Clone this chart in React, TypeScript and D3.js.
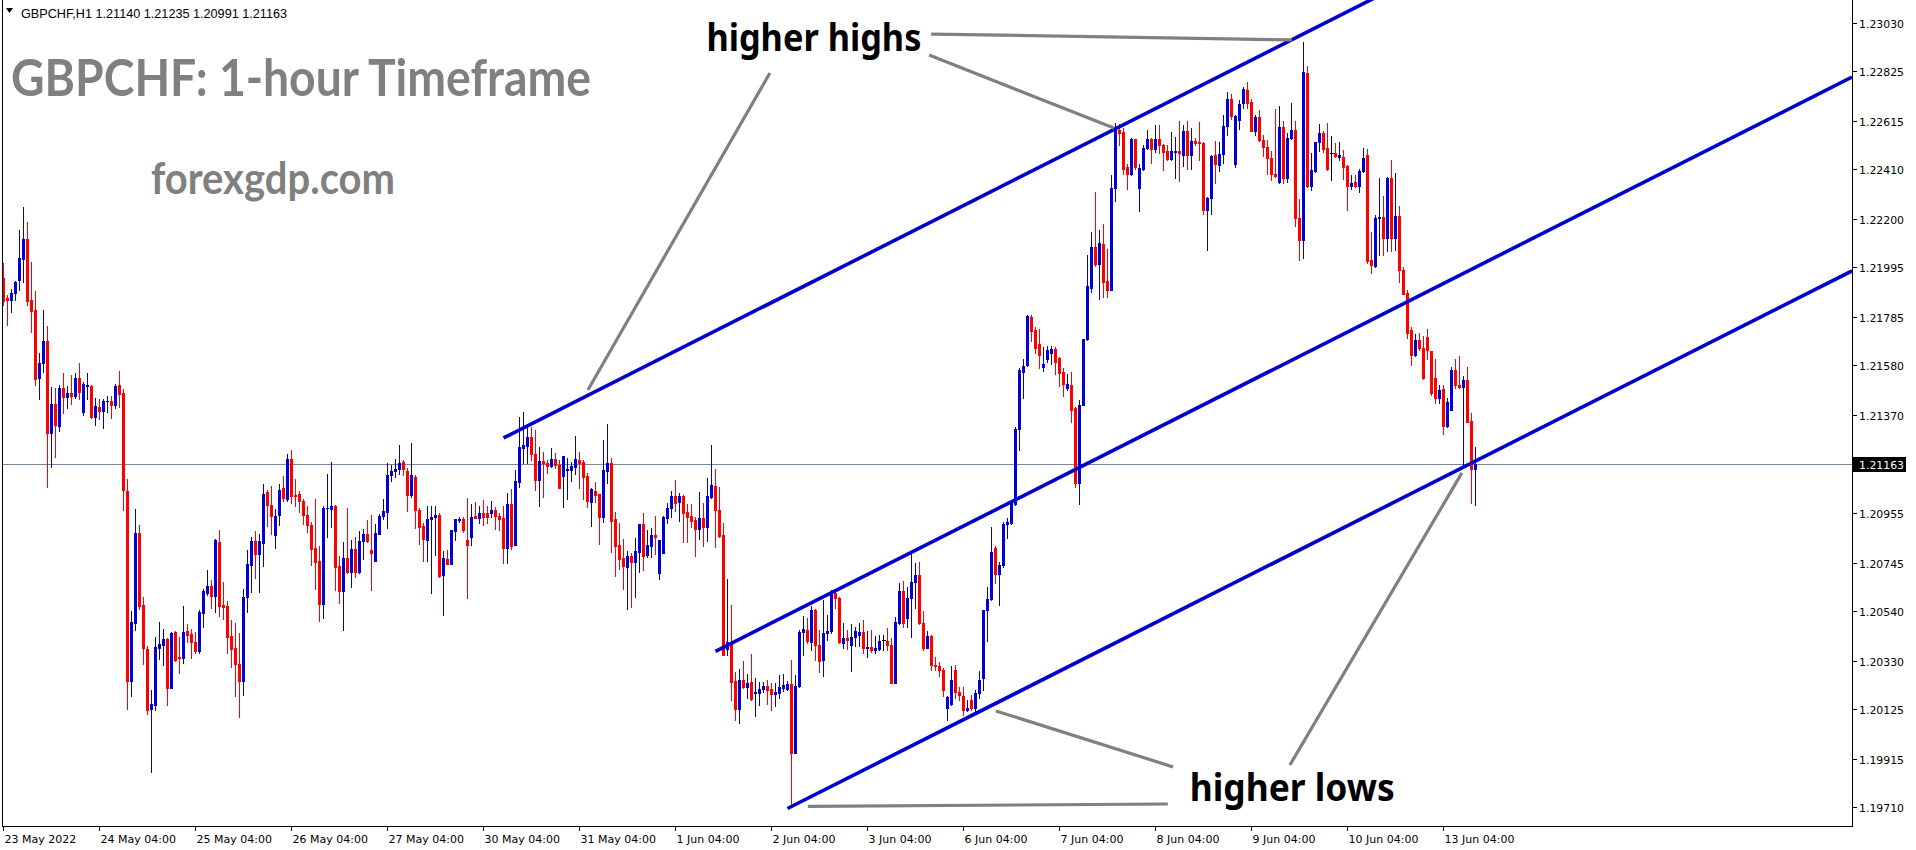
import React from "react";
import * as d3 from "d3";

const W = 1916;
const H = 850;

// ---------- data ----------
const symbolHeader = "GBPCHF,H1  1.21140 1.21235 1.20991 1.21163";
const titleText = "GBPCHF: 1-hour Timeframe";
const siteText = "forexgdp.com";

const opens = [
1.21949,1.21863,1.21857,1.21888,1.21943,1.22028,1.22115,1.21857,1.21815,1.21528,
1.21589,1.21683,1.21293,1.21415,1.21324,1.21484,1.21447,1.21462,1.21451,1.21526,
1.21382,1.21492,1.21492,1.21362,1.21403,1.21387,1.21428,1.21431,1.21414,1.21495,
1.21462,1.21047,1.20244,1.20490,1.20870,1.20568,1.20379,1.20126,1.20145,1.20385,
1.20396,1.20422,1.20216,1.20451,1.20346,1.20341,1.20455,1.20443,1.20410,1.20371,
1.20532,1.20618,1.20645,1.20604,1.20831,1.20565,1.20560,1.20433,1.20383,1.20317,
1.20244,1.20601,1.20736,1.20839,1.20783,1.20830,1.21046,1.20991,1.20863,1.20947,
1.21060,1.21014,1.21185,1.21033,1.21035,1.21005,1.20949,1.20906,1.20806,1.20751,
1.20571,1.20975,1.20974,1.20986,1.20731,1.20626,1.20767,1.20706,1.20803,1.20706,
1.20836,1.20867,1.20800,1.20754,1.20867,1.20944,1.20960,1.21116,1.21132,1.21140,
1.21173,1.21134,1.21032,1.21109,1.20968,1.20902,1.20841,1.20929,1.20937,1.20947,
1.20693,1.20761,1.20741,1.20881,1.20926,1.20930,1.20841,1.20855,1.20944,1.20936,
1.20954,1.20954,1.20954,1.20968,1.20944,1.20933,1.20809,1.20993,1.20820,1.21088,
1.21232,1.21240,1.21278,1.21205,1.21095,1.21175,1.21165,1.21156,1.21184,1.21158,
1.21112,1.21136,1.21137,1.21151,1.21180,1.21171,1.21112,1.21003,1.21048,1.21036,
1.20940,1.21134,1.21168,1.20929,1.20820,1.20766,1.20728,1.20773,1.20747,1.20792,
1.20909,1.20778,1.20817,1.20862,1.20700,1.20788,1.20936,1.20975,1.21027,1.21003,
1.21027,1.20958,1.20943,1.20926,1.20886,1.20936,1.20898,1.21025,1.21070,1.20968,
1.20862,1.20379,1.20404,1.20245,1.20126,1.20249,1.20221,1.20241,1.20193,1.20193,
1.20211,1.20224,1.20211,1.20189,1.20193,1.20214,1.20210,1.20233,1.19939,1.20224,
1.20451,1.20461,1.20408,1.20543,1.20395,1.20334,1.20447,1.20454,1.20616,1.20595,
1.20405,1.20426,1.20398,1.20430,1.20440,1.20451,1.20384,1.20388,1.20374,1.20379,
1.20416,1.20412,1.20398,1.20238,1.20489,1.20627,1.20510,1.20595,1.20663,1.20694,
1.20492,1.20384,1.20433,1.20313,1.20306,1.20292,1.20130,1.20148,1.20289,1.20200,
1.20182,1.20123,1.20165,1.20130,1.20193,1.20257,1.20543,1.20591,1.20807,1.20698,
1.20736,1.20909,1.20915,1.20994,1.21311,1.21553,1.21583,1.21786,1.21731,1.21669,
1.21574,1.21605,1.21634,1.21648,1.21610,1.21553,1.21484,1.21496,1.21398,1.21082,
1.21412,1.21691,1.21907,1.22083,1.22011,1.22094,1.21937,1.21901,1.22331,1.22577,
1.22567,1.22420,1.22391,1.22537,1.22330,1.22413,1.22499,1.22539,1.22496,1.22539,
1.22513,1.22487,1.22453,1.22484,1.22487,1.22470,1.22573,1.22470,1.22530,1.22527,
1.22520,1.22237,1.22288,1.22470,1.22427,1.22473,1.22591,1.22706,1.22434,1.22620,
1.22692,1.22744,1.22694,1.22573,1.22630,1.22534,1.22506,1.22458,1.22391,1.22358,
1.22587,1.22374,1.22544,1.22574,1.22202,1.22112,1.22816,1.22338,1.22401,1.22524,
1.22563,1.22499,1.22477,1.22477,1.22463,1.22463,1.22423,1.22341,1.22356,1.22337,
1.22401,1.22470,1.22027,1.22002,1.22202,1.22208,1.22120,1.22374,1.22120,1.22210,
1.21984,1.21887,1.21729,1.21623,1.21686,1.21655,1.21701,1.21640,1.21526,1.21440,
1.21480,1.21323,1.21390,1.21562,1.21497,1.21487,1.21519,1.21344,1.21140
];

const highs = [
1.22013,1.21876,1.21902,1.21938,1.22153,1.22252,1.22186,1.22017,1.21894,1.21631,
1.21815,1.21746,1.21487,1.21484,1.21497,1.21548,1.21492,1.21539,1.21547,1.21589,
1.21511,1.21547,1.21497,1.21442,1.21437,1.21437,1.21450,1.21451,1.21503,1.21556,
1.21480,1.21099,1.20540,1.20972,1.20903,1.20599,1.20391,1.20206,1.20430,1.20493,
1.20466,1.20427,1.20451,1.20454,1.20430,1.20560,1.20485,1.20466,1.20451,1.20545,
1.20634,1.20714,1.20671,1.20847,1.20884,1.20662,1.20584,1.20501,1.20490,1.20446,
1.20634,1.20798,1.20853,1.20878,1.20866,1.21077,1.21054,1.21069,1.20972,1.21077,
1.21112,1.21204,1.21221,1.21099,1.21050,1.21014,1.20986,1.20919,1.21014,1.20816,
1.20983,1.21119,1.21171,1.20991,1.20772,1.20833,1.20975,1.20842,1.20855,1.20878,
1.20886,1.20925,1.20949,1.20908,1.20952,1.21014,1.21166,1.21159,1.21182,1.21241,
1.21180,1.21144,1.21253,1.21116,1.20975,1.20912,1.20985,1.20985,1.20985,1.20954,
1.20795,1.20799,1.20884,1.20930,1.20937,1.20940,1.21020,1.20993,1.21002,1.20985,
1.21010,1.20985,1.21006,1.20982,1.20957,1.20985,1.21041,1.21058,1.21137,1.21360,
1.21384,1.21321,1.21321,1.21307,1.21236,1.21215,1.21180,1.21229,1.21208,1.21180,
1.21197,1.21189,1.21171,1.21281,1.21215,1.21180,1.21123,1.21060,1.21085,1.21036,
1.21264,1.21332,1.21187,1.20961,1.20912,1.20845,1.20796,1.20785,1.20848,1.20909,
1.20954,1.20884,1.20893,1.20943,1.20841,1.20943,1.20996,1.21048,1.21095,1.21041,
1.21030,1.20992,1.20992,1.20940,1.21044,1.20996,1.21102,1.21243,1.21142,1.21067,
1.20912,1.20676,1.20566,1.20281,1.20296,1.20331,1.20274,1.20359,1.20256,1.20242,
1.20239,1.20247,1.20238,1.20238,1.20269,1.20274,1.20243,1.20334,1.20271,1.20461,
1.20518,1.20510,1.20560,1.20550,1.20461,1.20588,1.20525,1.20630,1.20633,1.20602,
1.20489,1.20461,1.20487,1.20475,1.20489,1.20503,1.20454,1.20461,1.20433,1.20440,
1.20440,1.20468,1.20426,1.20517,1.20658,1.20666,1.20644,1.20785,1.20743,1.20750,
1.20539,1.20454,1.20440,1.20348,1.20327,1.20299,1.20179,1.20306,1.20313,1.20219,
1.20219,1.20165,1.20186,1.20207,1.20285,1.20546,1.20644,1.20898,1.20814,1.20747,
1.20919,1.20933,1.21000,1.21320,1.21570,1.21608,1.21795,1.21795,1.21743,1.21735,
1.21657,1.21662,1.21662,1.21657,1.21617,1.21571,1.21545,1.21550,1.21406,1.21432,
1.21691,1.22045,1.22146,1.22313,1.22154,1.22177,1.22072,1.22384,1.22606,1.22601,
1.22584,1.22434,1.22541,1.22539,1.22434,1.22513,1.22574,1.22541,1.22599,1.22596,
1.22517,1.22513,1.22566,1.22547,1.22613,1.22599,1.22616,1.22584,1.22544,1.22610,
1.22527,1.22291,1.22470,1.22530,1.22527,1.22641,1.22737,1.22730,1.22641,1.22702,
1.22759,1.22777,1.22706,1.22639,1.22659,1.22556,1.22534,1.22487,1.22663,1.22677,
1.22613,1.22563,1.22691,1.22613,1.22284,1.22949,1.22845,1.22477,1.22527,1.22601,
1.22570,1.22606,1.22549,1.22520,1.22527,1.22491,1.22427,1.22387,1.22387,1.22410,
1.22498,1.22496,1.22144,1.22215,1.22373,1.22298,1.22377,1.22448,1.22394,1.22255,
1.21998,1.21901,1.21743,1.21712,1.21719,1.21705,1.21733,1.21640,1.21605,1.21497,
1.21497,1.21440,1.21572,1.21605,1.21619,1.21537,1.21572,1.21380,1.21235
];

const lows = [
1.21837,1.21750,1.21805,1.21857,1.21899,1.21931,1.21837,1.21722,1.21497,1.21437,
1.21553,1.21066,1.21151,1.21193,1.21303,1.21378,1.21401,1.21415,1.21442,1.21437,
1.21371,1.21437,1.21359,1.21328,1.21353,1.21317,1.21382,1.21359,1.21398,1.21406,
1.20967,1.20126,1.20181,1.20459,1.20548,1.20318,1.20106,1.19859,1.20122,1.20336,
1.20311,1.20142,1.20216,1.20330,1.20278,1.20321,1.20411,1.20341,1.20365,1.20365,
1.20474,1.20607,1.20552,1.20537,1.20521,1.20506,1.20361,1.20302,1.20181,1.20092,
1.20186,1.20537,1.20623,1.20681,1.20621,1.20733,1.20900,1.20866,1.20808,1.20905,
1.21007,1.21007,1.20999,1.20986,1.20961,1.20908,1.20873,1.20736,1.20634,1.20499,
1.20510,1.20853,1.20897,1.20631,1.20574,1.20462,1.20701,1.20643,1.20684,1.20703,
1.20762,1.20834,1.20631,1.20751,1.20866,1.20928,1.20892,1.21090,1.21108,1.21121,
1.21116,1.20965,1.21025,1.20891,1.20824,1.20752,1.20752,1.20618,1.20778,1.20686,
1.20524,1.20740,1.20740,1.20841,1.20919,1.20877,1.20597,1.20820,1.20933,1.20912,
1.20905,1.20912,1.20937,1.20886,1.20884,1.20745,1.20745,1.20803,1.20820,1.21067,
1.21166,1.21166,1.21180,1.21053,1.20986,1.21025,1.21126,1.21151,1.21144,1.21063,
1.20982,1.21015,1.21092,1.21119,1.21063,1.21013,1.20982,1.20902,1.21003,1.20824,
1.20919,1.21084,1.20792,1.20690,1.20719,1.20633,1.20551,1.20559,1.20602,1.20704,
1.20714,1.20768,1.20771,1.20782,1.20678,1.20785,1.20915,1.20940,1.20965,1.20923,
1.20834,1.20834,1.20898,1.20775,1.20844,1.20817,1.20838,1.21020,1.20813,1.20855,
1.20355,1.20355,1.20164,1.20080,1.20066,1.20214,1.20172,1.20164,1.20098,1.20143,
1.20197,1.20148,1.20123,1.20140,1.20172,1.20204,1.20207,1.19721,1.19939,1.20221,
1.20355,1.20405,1.20377,1.20334,1.20281,1.20264,1.20419,1.20447,1.20553,1.20405,
1.20384,1.20379,1.20285,1.20393,1.20393,1.20362,1.20348,1.20369,1.20362,1.20374,
1.20374,1.20377,1.20238,1.20238,1.20486,1.20475,1.20475,1.20430,1.20553,1.20486,
1.20377,1.20384,1.20289,1.20289,1.20264,1.20179,1.20080,1.20144,1.20172,1.20165,
1.20102,1.20116,1.20123,1.20116,1.20172,1.20207,1.20412,1.20588,1.20659,1.20564,
1.20729,1.20849,1.20909,1.20990,1.21220,1.21444,1.21579,1.21683,1.21634,1.21571,
1.21558,1.21596,1.21584,1.21545,1.21493,1.21450,1.21476,1.21341,1.21065,1.20992,
1.21412,1.21688,1.21890,1.22002,1.21859,1.21869,1.21869,1.21898,1.22277,1.22513,
1.22391,1.22327,1.22384,1.22413,1.22234,1.22406,1.22496,1.22438,1.22484,1.22477,
1.22408,1.22448,1.22448,1.22373,1.22360,1.22424,1.22410,1.22410,1.22513,1.22448,
1.22220,1.22070,1.22220,1.22353,1.22401,1.22438,1.22556,1.22624,1.22420,1.22581,
1.22670,1.22667,1.22570,1.22553,1.22530,1.22467,1.22391,1.22363,1.22377,1.22353,
1.22353,1.22356,1.22539,1.22170,1.22024,1.22034,1.22334,1.22320,1.22398,1.22487,
1.22484,1.22406,1.22363,1.22463,1.22448,1.22370,1.22237,1.22327,1.22334,1.22313,
1.22398,1.22015,1.21972,1.21998,1.22048,1.22048,1.22062,1.22062,1.22070,1.21934,
1.21884,1.21695,1.21580,1.21619,1.21643,1.21523,1.21605,1.21455,1.21419,1.21419,
1.21290,1.21319,1.21390,1.21483,1.21483,1.21154,1.21340,1.20997,1.20991
];

const closes = [
1.21852,1.21857,1.21888,1.21931,1.22034,1.22115,1.21854,1.21811,1.21523,1.21589,
1.21683,1.21293,1.21415,1.21328,1.21484,1.21447,1.21462,1.21451,1.21526,1.21469,
1.21501,1.21497,1.21362,1.21407,1.21387,1.21431,1.21431,1.21414,1.21492,1.21459,
1.21053,1.20244,1.20493,1.20870,1.20560,1.20385,1.20122,1.20148,1.20388,1.20399,
1.20421,1.20216,1.20447,1.20333,1.20341,1.20451,1.20438,1.20410,1.20371,1.20535,
1.20626,1.20645,1.20604,1.20842,1.20562,1.20557,1.20430,1.20380,1.20317,1.20244,
1.20601,1.20739,1.20836,1.20783,1.20836,1.21035,1.20988,1.20944,1.20944,1.21052,
1.21018,1.21182,1.21029,1.21029,1.21005,1.20949,1.20906,1.20803,1.20748,1.20571,
1.20978,1.20978,1.20986,1.20728,1.20626,1.20767,1.20706,1.20803,1.20704,1.20836,
1.20867,1.20837,1.20787,1.20870,1.20944,1.20963,1.21116,1.21135,1.21140,1.21168,
1.21140,1.21032,1.21116,1.20968,1.20898,1.20845,1.20930,1.20940,1.20947,1.20689,
1.20764,1.20741,1.20884,1.20930,1.20930,1.20884,1.20820,1.20940,1.20936,1.20954,
1.20940,1.20940,1.20968,1.20944,1.20929,1.20809,1.20993,1.20817,1.21091,1.21236,
1.21243,1.21278,1.21205,1.21095,1.21175,1.21165,1.21156,1.21184,1.21158,1.21063,
1.21197,1.21143,1.21154,1.21184,1.21168,1.21109,1.21008,1.21056,1.21032,1.20940,
1.21137,1.21165,1.20923,1.20817,1.20759,1.20733,1.20773,1.20747,1.20795,1.20909,
1.20775,1.20820,1.20862,1.20852,1.20841,1.20940,1.20978,1.21027,1.20999,1.21027,
1.20957,1.20940,1.20923,1.20886,1.20936,1.20898,1.21027,1.21074,1.20968,1.20860,
1.20355,1.20411,1.20242,1.20126,1.20249,1.20221,1.20235,1.20167,1.20198,1.20211,
1.20225,1.20207,1.20190,1.20196,1.20219,1.20228,1.20233,1.19939,1.20224,1.20451,
1.20464,1.20412,1.20543,1.20395,1.20331,1.20447,1.20457,1.20616,1.20595,1.20408,
1.20426,1.20419,1.20430,1.20454,1.20451,1.20384,1.20388,1.20374,1.20384,1.20412,
1.20416,1.20398,1.20238,1.20496,1.20627,1.20492,1.20595,1.20663,1.20694,1.20492,
1.20384,1.20437,1.20313,1.20306,1.20292,1.20207,1.20175,1.20250,1.20200,1.20186,
1.20123,1.20130,1.20130,1.20193,1.20250,1.20543,1.20591,1.20792,1.20698,1.20736,
1.20909,1.20919,1.20997,1.21312,1.21562,1.21579,1.21790,1.21726,1.21653,1.21622,
1.21584,1.21645,1.21648,1.21596,1.21548,1.21501,1.21501,1.21393,1.21082,1.21412,
1.21691,1.21915,1.22083,1.22007,1.22097,1.21934,1.21901,1.22331,1.22577,1.22563,
1.22410,1.22391,1.22537,1.22420,1.22416,1.22499,1.22539,1.22496,1.22539,1.22513,
1.22484,1.22453,1.22487,1.22488,1.22477,1.22573,1.22470,1.22530,1.22520,1.22520,
1.22237,1.22288,1.22467,1.22430,1.22473,1.22591,1.22706,1.22634,1.22637,1.22684,
1.22749,1.22692,1.22573,1.22630,1.22534,1.22506,1.22458,1.22391,1.22380,1.22587,
1.22374,1.22544,1.22574,1.22202,1.22112,1.22820,1.22338,1.22406,1.22524,1.22563,
1.22496,1.22413,1.22477,1.22467,1.22470,1.22420,1.22341,1.22353,1.22337,1.22401,
1.22458,1.22022,1.22005,1.22205,1.22208,1.22120,1.22374,1.22120,1.22213,1.21984,
1.21884,1.21719,1.21623,1.21686,1.21652,1.21526,1.21643,1.21462,1.21440,1.21476,
1.21323,1.21426,1.21562,1.21495,1.21487,1.21519,1.21340,1.21143,1.21163
];

const dateLabels = [
  "23 May 2022", "24 May 04:00", "25 May 04:00", "26 May 04:00", "27 May 04:00",
  "30 May 04:00", "31 May 04:00", "1 Jun 04:00", "2 Jun 04:00", "3 Jun 04:00",
  "6 Jun 04:00", "7 Jun 04:00", "8 Jun 04:00", "9 Jun 04:00", "10 Jun 04:00",
  "13 Jun 04:00",
];
const barsPerDay = 24;

const priceTicks = [
  1.2303, 1.22825, 1.22615, 1.2241, 1.222, 1.21995, 1.21785, 1.2158, 1.2137,
  1.20955, 1.20745, 1.2054, 1.2033, 1.20125, 1.19915, 1.1971,
];
const currentPrice = 1.21163;

// channel lines: two anchors each, as [bar, price]
const upperLine = [[125, 1.21273], [320, 1.2294]];
const middleLine = [[178, 1.2037], [368, 1.21995]];
const lowerLine = [[196, 1.19705], [368, 1.21175]];

// annotation pointers [bar, price] -> [bar, price]
const pointerLines = [
  [[231.9, 1.22982], [322.1, 1.22957]],
  [[231.4, 1.22893], [277.6, 1.22584]],
  [[191.6, 1.22817], [146.1, 1.21476]],
  [[201.1, 1.19714], [291.1, 1.19724]],
  [[248.1, 1.20118], [292.4, 1.19881]],
  [[321.6, 1.19889], [364.6, 1.21125]],
];

const labelHighs = { text: "higher highs", bar: 202.6, price: 1.2291 };
const labelLows = { text: "higher lows", bar: 322.2, price: 1.19735 };

// ---------- layout ----------
const plotLeft = 2;
const plotRight = 1852;
const plotTop = 0;
const plotBottom = 826;

const BULL = "#0000D6";
const BEAR = "#FF0000";
const CHANNEL = "#0000CD";
const POINTER = "#808080";

export default function App() {
  const n = closes.length;
  const x = d3.scaleLinear().domain([0, n - 1]).range([3.5, 3.5 + 4 * (n - 1)]);
  const y = d3.scaleLinear().domain([1.19631, 1.23126]).range([plotBottom, plotTop]);

  const extendRay = (pts: number[][]) => {
    const [b0, p0] = pts[0];
    const [b1, p1] = pts[1];
    const slope = (p1 - p0) / (b1 - b0);
    const bEnd = x.invert(plotRight);
    return [
      [x(b0), y(p0)],
      [x(bEnd), y(p0 + slope * (bEnd - b0))],
    ];
  };

  const lineGen = d3.line();

  const candles = d3.range(n).map((i) => {
    const o = opens[i];
    const c = closes[i];
    const h = highs[i];
    const l = lows[i];
    const col = o === c ? "#000000" : c > o ? BULL : BEAR;
    const cx = x(i);
    const yTop = Math.round(y(Math.max(o, c)));
    const yBot = Math.round(y(Math.min(o, c)));
    return (
      <g key={i}>
        <line x1={cx} x2={cx} y1={Math.round(y(h))} y2={Math.round(y(l)) + 1} stroke={col} strokeWidth={1} />
        {o === c ? (
          <line x1={cx - 2} x2={cx + 2} y1={yTop + 0.5} y2={yTop + 0.5} stroke={col} strokeWidth={1} />
        ) : (
          <rect x={cx - 1.5} y={yTop} width={3} height={Math.max(1, yBot - yTop + 1)} fill={col} />
        )}
      </g>
    );
  });

  const axisFont = "'DejaVu Sans', Verdana, sans-serif";
  const cpY = Math.round(y(currentPrice));

  return (
    <svg
      width={W}
      height={H}
      viewBox={`0 0 ${W} ${H}`}
      style={{ position: "absolute", left: 0, top: 0, background: "#ffffff" }}
    >
      <defs>
        <clipPath id="plotClip">
          <rect x={plotLeft} y={plotTop} width={plotRight - plotLeft} height={plotBottom - plotTop} />
        </clipPath>
      </defs>
      <rect x={0} y={0} width={W} height={H} fill="#ffffff" />

      {/* header */}
      <path d="M6,8 L13,8 L9.5,13 Z" fill="#000" />
      <text x={21} y={18} fontFamily="'Liberation Sans', Arial, sans-serif" fontSize={12} fill="#000" textLength={266} lengthAdjust="spacingAndGlyphs">
        {symbolHeader}
      </text>

      {/* watermark texts */}
      <text x={11} y={96} fontFamily="Lato, 'Open Sans', sans-serif" fontWeight={700} fontSize={52} fill="#808080" textLength={580} lengthAdjust="spacingAndGlyphs">
        {titleText}
      </text>
      <text x={151} y={194} fontFamily="Lato, 'Open Sans', sans-serif" fontWeight={700} fontSize={44} fill="#808080" textLength={244} lengthAdjust="spacingAndGlyphs">
        {siteText}
      </text>

      <g clipPath="url(#plotClip)">
        {/* current price line */}
        <line x1={plotLeft} x2={plotRight} y1={cpY + 0.5} y2={cpY + 0.5} stroke="#778899" strokeWidth={1} />

        <g shapeRendering="crispEdges">{candles}</g>

        {[upperLine, middleLine, lowerLine].map((ln, k) => (
          <path key={k} d={lineGen(extendRay(ln) as [number, number][]) || ""} stroke={CHANNEL} strokeWidth={3.6} fill="none" />
        ))}

        {pointerLines.map((pl, k) => (
          <path
            key={k}
            d={lineGen(pl.map(([b, p]) => [x(b), y(p)]) as [number, number][]) || ""}
            stroke={POINTER}
            strokeWidth={3.2}
            fill="none"
          />
        ))}
      </g>

      {/* annotation labels */}
      <text x={x(labelHighs.bar)} y={y(labelHighs.price)} textAnchor="middle" fontFamily="'Noto Sans', 'Open Sans', sans-serif" fontWeight={700} fontSize={38} fill="#000" textLength={215} lengthAdjust="spacingAndGlyphs">
        {labelHighs.text}
      </text>
      <text x={x(labelLows.bar)} y={y(labelLows.price)} textAnchor="middle" fontFamily="'Noto Sans', 'Open Sans', sans-serif" fontWeight={700} fontSize={38} fill="#000" textLength={205} lengthAdjust="spacingAndGlyphs">
        {labelLows.text}
      </text>

      {/* frame */}
      <g shapeRendering="crispEdges" stroke="#000" strokeWidth={1}>
        <line x1={plotLeft + 0.5} x2={plotLeft + 0.5} y1={plotTop} y2={plotBottom + 0.5} />
        <line x1={plotRight + 0.5} x2={plotRight + 0.5} y1={plotTop} y2={plotBottom + 0.5} />
        <line x1={plotLeft} x2={plotRight + 1} y1={plotBottom + 0.5} y2={plotBottom + 0.5} />
      </g>

      {/* price axis */}
      <g fontFamily={axisFont} fontSize={11} fill="#000">
        {priceTicks.map((p) => {
          const py = Math.round(y(p)) + 0.5;
          return (
            <g key={p}>
              <line x1={plotRight} x2={plotRight + 5} y1={py} y2={py} stroke="#000" shapeRendering="crispEdges" />
              <text x={plotRight + 7} y={py + 4} textLength={45} lengthAdjust="spacingAndGlyphs">{p.toFixed(5)}</text>
            </g>
          );
        })}
        <rect x={plotRight + 1} y={cpY - 7} width={53} height={15} fill="#000" />
        <text x={plotRight + 7} y={cpY + 4.5} fill="#fff" textLength={45} lengthAdjust="spacingAndGlyphs">{currentPrice.toFixed(5)}</text>
      </g>

      {/* time axis */}
      <g fontFamily={axisFont} fontSize={11} fill="#000">
        {dateLabels.map((lab, k) => {
          const tx = x(k * barsPerDay);
          return (
            <g key={lab}>
              <line x1={tx} x2={tx} y1={plotBottom} y2={plotBottom + 5} stroke="#000" shapeRendering="crispEdges" />
              <text x={tx + 1} y={plotBottom + 17}>{lab}</text>
            </g>
          );
        })}
      </g>
    </svg>
  );
}
